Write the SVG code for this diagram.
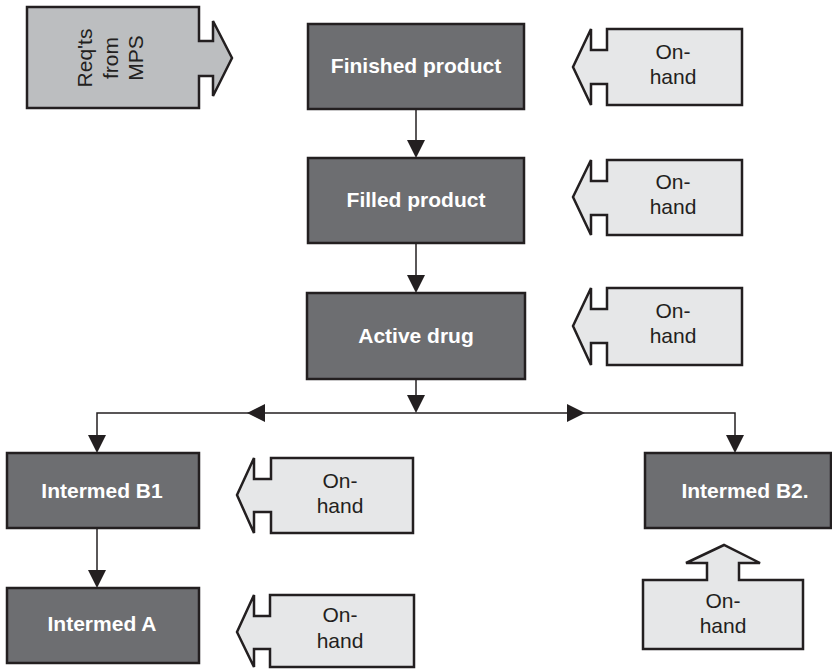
<svg xmlns="http://www.w3.org/2000/svg" xmlns:xlink="http://www.w3.org/1999/xlink" width="832" height="669" viewBox="0 0 832 669">
<style>
.box{fill:#6d6e71;stroke:#231f20;stroke-width:2.5}
.oh{fill:#e6e7e8;stroke:#231f20;stroke-width:2.5;stroke-linejoin:miter}
.req{fill:#bcbec0;stroke:#231f20;stroke-width:2.5}
.bt{font-family:"Liberation Sans",Arial,sans-serif;font-weight:bold;font-size:21px;fill:#ffffff;text-anchor:middle}
.lt{font-family:"Liberation Sans",Arial,sans-serif;font-size:21px;fill:#231f20;text-anchor:middle}
.ln{stroke:#231f20;stroke-width:1.5;fill:none}
.ah{fill:#231f20}
</style>
<defs>
<polygon id="ah" points="-9,-18 9,-18 0,0"/>
</defs>
<g id="connectors">
<line class="ln" x1="416" y1="109" x2="416" y2="145"/>
<use xlink:href="#ah" href="#ah" class="ah" transform="translate(416,158)"/>
<line class="ln" x1="416" y1="243" x2="416" y2="280"/>
<use xlink:href="#ah" href="#ah" class="ah" transform="translate(416,293)"/>
<line class="ln" x1="416" y1="379" x2="416" y2="400"/>
<use xlink:href="#ah" href="#ah" class="ah" transform="translate(416,413)"/>
<polyline class="ln" points="97,440 97,413 735,413 735,440"/>
<use xlink:href="#ah" href="#ah" class="ah" transform="translate(247,413) rotate(90)"/>
<use xlink:href="#ah" href="#ah" class="ah" transform="translate(585,413) rotate(-90)"/>
<use xlink:href="#ah" href="#ah" class="ah" transform="translate(97,453)"/>
<use xlink:href="#ah" href="#ah" class="ah" transform="translate(735,453)"/>
<line class="ln" x1="97" y1="528" x2="97" y2="575"/>
<use xlink:href="#ah" href="#ah" class="ah" transform="translate(97,588)"/>
</g>
<g id="reqts">
<path class="req" d="M27,7 H199 V41 H213 V21 L232,58 L213,96 V76 H199 V108 H27 Z"/>
<text class="lt" transform="translate(92,58) rotate(-90)"><tspan x="0" y="0">Req'ts</tspan><tspan x="0" y="25.5">from</tspan><tspan x="0" y="51">MPS</tspan></text>
</g>
<g id="finished">
<rect class="box" x="308" y="24" width="216" height="85"/>
<text class="bt" x="416" y="73">Finished product</text>
</g>
<g id="filled">
<rect class="box" x="308" y="158" width="216" height="85"/>
<text class="bt" x="416" y="207">Filled product</text>
</g>
<g id="active">
<rect class="box" x="307" y="293" width="218" height="86"/>
<text class="bt" x="416" y="343">Active drug</text>
</g>
<g id="b1">
<rect class="box" x="7" y="453" width="192" height="75"/>
<text class="bt" x="102" y="498">Intermed B1</text>
</g>
<g id="a">
<rect class="box" x="7" y="588" width="192" height="75"/>
<text class="bt" x="102" y="631">Intermed A</text>
</g>
<g id="b2">
<rect class="box" x="645" y="453" width="186" height="75"/>
<text class="bt" x="745" y="498">Intermed B2.</text>
</g>
<g id="onhand1">
<path class="oh" d="M607,29 H742 V105 H607 V84 H591 V105 L573,67 L591,29 V50 H607 Z"/>
<text class="lt"><tspan x="673" y="59">On-</tspan><tspan x="673" y="84">hand</tspan></text>
</g>
<g id="onhand2">
<path class="oh" d="M607,160 H742 V235 H607 V215 H591 V235 L573,197 L591,160 V181 H607 Z"/>
<text class="lt"><tspan x="673" y="189">On-</tspan><tspan x="673" y="214">hand</tspan></text>
</g>
<g id="onhand3">
<path class="oh" d="M607,288 H742 V365 H607 V343 H591 V365 L573,326 L591,288 V309 H607 Z"/>
<text class="lt"><tspan x="673" y="318">On-</tspan><tspan x="673" y="343">hand</tspan></text>
</g>
<g id="onhand4">
<path class="oh" d="M271,458 H413 V533 H271 V512 H254 V533 L237,495 L254,458 V479 H271 Z"/>
<text class="lt"><tspan x="340" y="488">On-</tspan><tspan x="340" y="513">hand</tspan></text>
</g>
<g id="onhand5">
<path class="oh" d="M270,595 H414 V667 H270 V649 H254 V667 L237,632 L254,595 V616 H270 Z"/>
<text class="lt"><tspan x="340" y="622">On-</tspan><tspan x="340" y="648">hand</tspan></text>
</g>
<g id="onhand6">
<path class="oh" d="M643,580 H707 V563 H686 L724,545 L760,563 H739 V580 H803 V649 H643 Z"/>
<text class="lt"><tspan x="723" y="608">On-</tspan><tspan x="723" y="633">hand</tspan></text>
</g>
</svg>
